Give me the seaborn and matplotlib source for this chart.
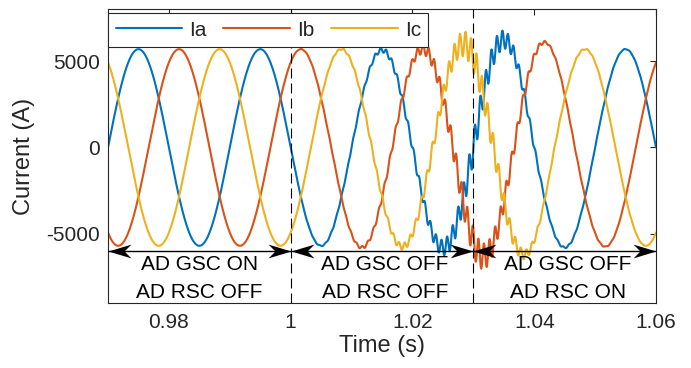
import numpy as np
import pandas as pd
import matplotlib
matplotlib.use("Agg")
import matplotlib.pyplot as plt
from matplotlib.path import Path
import seaborn as sns

# Time window and grid frequency
t_start, t_end = 0.97, 1.06
f_grid = 50.0
half_period = 0.5 / f_grid

# Half-cycle peak currents (A) for each phase, starting at the zero
# crossing given by *_first_zero
ia_first_zero = 0.97
ia_peaks = [5700, -5700, 5700, -5700, 5650, -5800, 6250, -5800, 5700]
ib_first_zero = 0.96667
ib_peaks = [-5700, 5700, -5700, 5700, -5800, 5700, -6300, 6100, -5750, 5700]
ic_first_zero = 0.96333
ic_peaks = [5700, -5700, 5700, -5700, 5700, -5750, 6000, -6200, 5700, -5700]

# Switching ripple superimposed on the currents (A)
ripple_freq = 1100.0
ripple_times = [0.97, 1.0, 1.01, 1.02, 1.025, 1.03, 1.034, 1.038, 1.042, 1.06]
ripple_amp = [0, 0, 60, 220, 450, 850, 600, 300, 60, 0]
ripple_phase = [0.0, 2.1, 4.2]

phase_names = ["Ia", "Ib", "Ic"]
phase_colors = ["#0072BD", "#D95319", "#EDB120"]

# Operating modes of the active damping
mode_bounds = [0.97, 1.0, 1.03, 1.06]
mode_switch = [1.0, 1.03]
mode_gsc = ["AD GSC ON", "AD GSC OFF", "AD GSC OFF"]
mode_rsc = ["AD RSC OFF", "AD RSC OFF", "AD RSC ON"]
mode_label_x = [0.985, 1.0155, 1.0455]
arrow_level = -6000
gsc_level = -6800
rsc_level = -8400

x_ticks = [0.98, 1.0, 1.02, 1.04, 1.06]
x_tick_labels = ["0.98", "1", "1.02", "1.04", "1.06"]
y_ticks = [-5000, 0, 5000]
y_tick_labels = ["-5000", "0", "5000"]


def phase_wave(t, first_zero, peaks):
    pos = (t - first_zero) / half_period
    k = np.clip(np.floor(pos).astype(int), 0, len(peaks) - 1)
    return np.asarray(peaks, dtype=float)[k] * np.sin(np.pi * (pos - k))


t = np.arange(t_start, t_end + 1e-9, 2e-5)
envelope = np.interp(t, ripple_times, ripple_amp)
frames = []
for name, fz, pk, ph in zip(phase_names,
                            [ia_first_zero, ib_first_zero, ic_first_zero],
                            [ia_peaks, ib_peaks, ic_peaks],
                            ripple_phase):
    i = phase_wave(t, fz, pk) + envelope * np.sin(2 * np.pi * ripple_freq * t + ph)
    frames.append(pd.DataFrame({"time": t, "current": i, "phase": name}))
df = pd.concat(frames, ignore_index=True)

sns.set_theme(style="white")
plt.rcParams["font.family"] = ["Liberation Sans", "DejaVu Sans"]
axis_color = "#262626"
tick_fs = 15
label_fs = 17
legend_fs = 15

fig = plt.figure(figsize=(6.91, 3.68), dpi=100)
ax = fig.add_axes([0.1563, 0.1774, 0.7931, 0.7968])

sns.lineplot(data=df, x="time", y="current", hue="phase",
             palette=dict(zip(phase_names, phase_colors)),
             estimator=None, sort=False, linewidth=1.5, ax=ax)

for xs in mode_switch:
    ax.axvline(xs, color="black", linestyle=(0, (9, 4.5)), linewidth=0.8, zorder=3)

# swept-back arrow heads pointing right / left
head_right = Path([(0, 0), (-1, 0.3), (-0.7, 0), (-1, -0.3), (0, 0)],
                  [Path.MOVETO, Path.LINETO, Path.LINETO, Path.LINETO, Path.CLOSEPOLY])
head_left = Path([(0, 0), (1, 0.3), (0.7, 0), (1, -0.3), (0, 0)],
                 [Path.MOVETO, Path.LINETO, Path.LINETO, Path.LINETO, Path.CLOSEPOLY])

for x0, x1 in zip(mode_bounds[:-1], mode_bounds[1:]):
    ax.plot([x0, x1], [arrow_level, arrow_level], color="black", lw=1.0,
            zorder=4, solid_capstyle="butt")
    ax.plot([x0], [arrow_level], marker=head_left, markersize=33,
            color="black", markeredgewidth=0, linestyle="none", zorder=4)
    ax.plot([x1], [arrow_level], marker=head_right, markersize=33,
            color="black", markeredgewidth=0, linestyle="none", zorder=4)

for xm, g, r in zip(mode_label_x, mode_gsc, mode_rsc):
    ax.text(xm, gsc_level, g, ha="center", va="center", fontsize=tick_fs, color="black")
    ax.text(xm, rsc_level, r, ha="center", va="center", fontsize=tick_fs, color="black")

ax.set_xlim(t_start, t_end)
ax.set_ylim(-9000, 8000)
ax.set_xticks(x_ticks)
ax.set_xticklabels(x_tick_labels)
ax.set_yticks(y_ticks)
ax.set_yticklabels(y_tick_labels)
ax.set_xlabel("Time (s)", fontsize=label_fs, color=axis_color, labelpad=2)
ax.set_ylabel("Current (A)", fontsize=label_fs, color=axis_color, labelpad=8)
ax.tick_params(axis="both", direction="in", length=4, width=0.8,
               colors=axis_color, labelsize=tick_fs, top=True, right=True)
ax.tick_params(axis="x", pad=7.5)
ax.tick_params(axis="y", pad=6)
for sp in ax.spines.values():
    sp.set_color(axis_color)
    sp.set_linewidth(0.8)
    sp.set_visible(True)

handles, labels = ax.get_legend_handles_labels()
handles, labels = handles[:3], labels[:3]
leg = ax.legend(handles, labels, ncol=3, loc="upper left",
                bbox_to_anchor=(0.0, 0.988), borderaxespad=0.0,
                fontsize=legend_fs, handlelength=3.2, handletextpad=0.34,
                columnspacing=0.8, borderpad=0.36, fancybox=False,
                framealpha=1.0, edgecolor=axis_color)
leg.get_frame().set_linewidth(0.8)
leg.set_zorder(5)

fig.savefig("out.png", dpi=100)
